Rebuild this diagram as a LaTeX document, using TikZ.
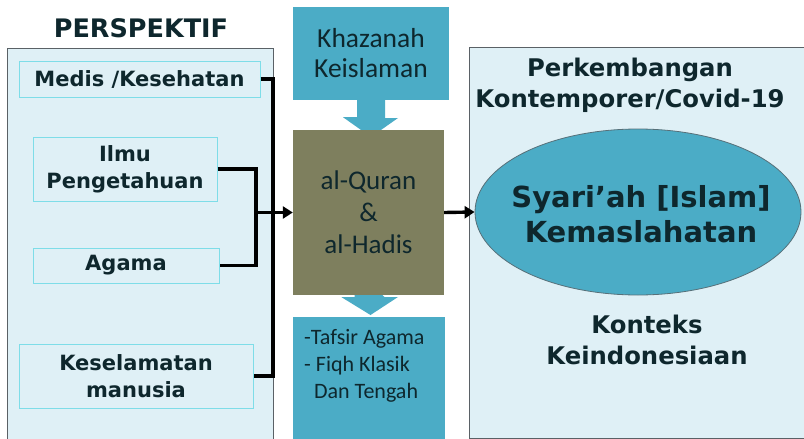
\documentclass[tikz,border=0pt]{standalone}
\usepackage{fontspec}
\setmainfont{DejaVu Sans}
\newfontfamily\calib{Carlito}
\usetikzlibrary{arrows.meta,shapes.geometric}
\definecolor{panelbg}{HTML}{DFF0F6}
\definecolor{pborder}{HTML}{7EDDE8}
\definecolor{teal}{HTML}{4BACC6}
\definecolor{olive}{HTML}{7E7F5E}
\definecolor{txt}{HTML}{0E272D}
\definecolor{edge}{HTML}{5A6166}
\tikzset{
  panel/.style={draw=edge,fill=panelbg,line width=1pt},
  pbox/.style={draw=pborder,fill=panelbg,line width=1pt,inner sep=0pt,text=txt,
    font=\fontsize{21}{27}\selectfont\bfseries,align=center},
  conn/.style={draw=black,line width=3.4pt},
  arr/.style={conn,-{Triangle[length=10pt,width=12pt]}},
  tealbox/.style={fill=teal,inner sep=0pt,text=txt},
  blockarrow/.style={fill=teal},
  heading/.style={text=txt,font=\fontsize{24.3}{31}\selectfont\bfseries,align=center}
}
\begin{document}
\begin{tikzpicture}[x=1pt,y=-1pt]
\useasboundingbox (0,0) rectangle (804,439);
\fill[white] (0,0) rectangle (804,439);
% left panel
\draw[panel] (7,48) rectangle (273,450);
\node[text=txt,font=\fontsize{25.5}{30}\selectfont\bfseries] (persp) at (141,28) {PERSPEKTIF};
\node[pbox,minimum width=241pt,minimum height=36pt] (medis) at (139.5,79) {Medis /Kesehatan};
\node[pbox,minimum width=184pt,minimum height=64pt] (ilmu) at (125,169) {Ilmu\\Pengetahuan};
\node[pbox,minimum width=186pt,minimum height=35pt] (agama) at (126,265.5) {Agama};
\node[pbox,minimum width=234pt,minimum height=64pt] (kesel) at (136,376) {Keselamatan\\manusia};
% right panel
\draw[panel] (469,47) rectangle (812,438);
\node[heading] (perk) at (630,85) {Perkembangan\\Kontemporer/Covid-19};
\node[ellipse,fill=teal,draw=edge!80!teal,line width=0.8pt,minimum width=326pt,minimum height=166pt,inner sep=0pt] (ell) at (638,212) {};
\node[text=txt,font=\fontsize{29}{35}\selectfont\bfseries,align=center] (syar) at (641,214) {Syari’ah [Islam]\\Kemaslahatan};
\node[heading] (konteks) at (647,340) {Konteks\\Keindonesiaan};
% middle column
\node[tealbox,minimum width=156pt,minimum height=93pt,font=\calib\fontsize{27.5}{30}\selectfont,align=center] (khaz) at (371,53.5) {Khazanah\\Keislaman};
\fill[blockarrow] ([xshift=-14pt]khaz.south) -- ++(0,17) -- ++(-14,0) -- (371,137) -- (398,118) -- ++(-13,0) -- ([xshift=14pt]khaz.south) -- cycle;
\node[fill=olive,inner sep=0pt,minimum width=151pt,minimum height=165pt,text=txt,font=\calib\fontsize{27}{32}\selectfont,align=center] (quran) at (368.5,212.5) {al-Quran\\\&\\al-Hadis};
\fill[blockarrow] ([xshift=-14pt]quran.south) -- ++(0,2) -- ++(-13,0) -- (370.5,315) -- (398,297) -- ++(-13.5,0) -- ([xshift=14pt]quran.south) -- cycle;
\node[tealbox,minimum width=152pt,minimum height=130pt,anchor=north] (tafsir) at (369,317) {};
\node[text=txt,font=\calib\fontsize{22}{27}\selectfont,align=left,anchor=north west,inner sep=0pt] (tafsirtxt) at (304,329) {-Tafsir Agama\\- Fiqh Klasik\\\ \ Dan Tengah};
% connectors
\coordinate (busR) at (273,0);
\coordinate (busL) at (256,0);
\draw[conn] (medis.east) -| (busR |- kesel.east) -- (kesel.east);
\draw[conn] (ilmu.east) -| (busL |- agama.east) -- (agama.east);
\draw[arr] (busL |- quran.west) -- (quran.west);
\draw[arr] (quran.east) -- (ell.west);
\end{tikzpicture}
\end{document}
